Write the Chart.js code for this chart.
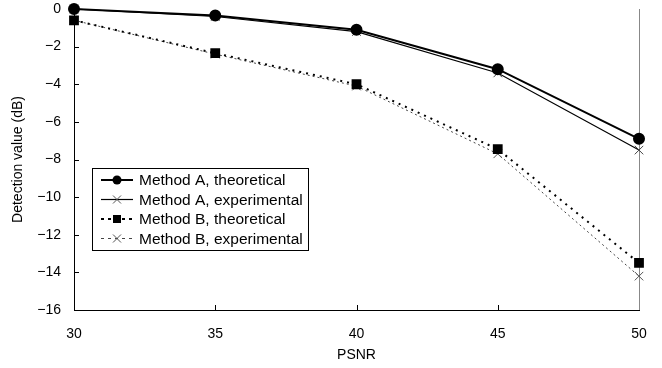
<!DOCTYPE html>
<html>
<head>
<meta charset="utf-8">
<script src="https://cdn.jsdelivr.net/npm/chart.js@4"></script>
<style>
  html, body { margin: 0; padding: 0; background: #fff; }
  #wrap { width: 662px; height: 368px; }
</style>
</head>
<body>
<div id="wrap"><canvas id="myChart" width="662" height="368"></canvas></div>
<script>
var psnr = [30, 35, 40, 45, 50];
var aTheoretical = [0, -0.35, -1.1, -3.2, -6.9];
var aExperimental = [0, -0.4, -1.2, -3.4, -7.5];
var bTheoretical = [-0.6, -2.35, -4.0, -7.45, -13.5];
var bExperimental = [-0.6, -2.4, -4.1, -7.7, -14.2];
var seriesNames = ['Method A, theoretical', 'Method A, experimental', 'Method B, theoretical', 'Method B, experimental'];

var FONT = "'Liberation Sans', Arial, sans-serif";

function pts(arr) {
    return arr.map(function (v, i) { return { x: psnr[i], y: v }; });
}

// inward tick marks + gray right border, under the data
var frame = {
    id: 'frame',
    beforeDatasetsDraw: function (chart) {
        var c = chart.ctx, a = chart.chartArea;
        var xs = chart.scales.x, ys = chart.scales.y;
        c.save();
        c.strokeStyle = '#000';
        c.lineWidth = 1;
        c.beginPath();
        ys.ticks.forEach(function (t) {
            var y = Math.round(ys.getPixelForValue(t.value)) + 0.5;
            c.moveTo(a.left, y); c.lineTo(a.left + 5, y);
        });
        xs.ticks.forEach(function (t) {
            var x = Math.round(xs.getPixelForValue(t.value)) + 0.5;
            c.moveTo(x, a.bottom); c.lineTo(x, a.bottom - 5);
        });
        c.stroke();
        c.strokeStyle = '#888';
        c.beginPath();
        c.moveTo(a.right + 0.5, a.top); c.lineTo(a.right + 0.5, a.bottom);
        c.stroke();
        c.restore();
    }
};

// boxed legend inside the plot, like the original
var boxLegend = {
    id: 'boxLegend',
    afterDraw: function (chart) {
        var c = chart.ctx;
        var left = 92, top = 168, w = 216, h = 82;
        c.save();
        c.fillStyle = '#fff';
        c.fillRect(left, top, w, h);
        c.strokeStyle = '#000';
        c.lineWidth = 1;
        c.strokeRect(left + 0.5, top + 0.5, w, h);
        chart.data.datasets.forEach(function (ds, i) {
            var y = top + 12 + i * 19.5;
            c.strokeStyle = ds.borderColor;
            c.lineWidth = ds.borderWidth;
            c.setLineDash(i > 1 ? [3, 4] : []);
            c.beginPath();
            c.moveTo(101, y); c.lineTo(133, y);
            c.stroke();
            c.setLineDash([]);
            c.fillStyle = '#000';
            c.strokeStyle = '#000';
            c.lineWidth = 1;
            if (ds.pointStyle === 'circle') {
                c.beginPath(); c.arc(117, y, 4.5, 0, Math.PI * 2); c.fill();
            } else if (ds.pointStyle === 'rect') {
                c.fillRect(113, y - 4, 8, 8);
            } else {
                c.strokeStyle = '#555';
                c.beginPath();
                c.moveTo(113, y - 4); c.lineTo(121, y + 4);
                c.moveTo(121, y - 4); c.lineTo(113, y + 4);
                c.stroke();
            }
            c.fillStyle = '#000';
            c.font = '15.5px ' + FONT;
            c.textBaseline = 'middle';
            c.fillText(seriesNames[i], 139, y + 1);
        });
        c.restore();
    }
};

var ctx = document.getElementById('myChart').getContext('2d');
var myChart = new Chart(ctx, {
    type: 'line',
    data: {
        datasets: [{
            label: seriesNames[0],
            data: pts(aTheoretical),
            borderColor: '#000',
            backgroundColor: '#000',
            borderWidth: 2,
            pointStyle: 'circle',
            pointRadius: 5,
            tension: 0,
            clip: false
        }, {
            label: seriesNames[1],
            data: pts(aExperimental),
            borderColor: '#000',
            backgroundColor: '#000',
            pointBorderColor: '#444',
            borderWidth: 1.2,
            pointStyle: 'crossRot',
            pointRadius: 6,
            pointBorderWidth: 1,
            tension: 0,
            clip: false
        }, {
            label: seriesNames[2],
            data: pts(bTheoretical),
            borderColor: '#000',
            backgroundColor: '#000',
            borderWidth: 2,
            borderDash: [2, 5],
            pointStyle: 'rect',
            pointRadius: 5.5,
            tension: 0,
            clip: false
        }, {
            label: seriesNames[3],
            data: pts(bExperimental),
            borderColor: '#444',
            backgroundColor: '#444',
            pointBorderColor: '#555',
            borderWidth: 1,
            borderDash: [2, 3],
            pointStyle: 'crossRot',
            pointRadius: 6,
            pointBorderWidth: 1,
            tension: 0,
            clip: false
        }]
    },
    options: {
        responsive: false,
        animation: false,
        layout: { padding: { left: 0, right: 23, top: 9, bottom: 0 } },
        plugins: {
            legend: { display: false },
            tooltip: { enabled: false }
        },
        scales: {
            x: {
                type: 'linear',
                min: 30,
                max: 50,
                ticks: { stepSize: 5, color: '#000', font: { family: FONT, size: 14 }, padding: 16 },
                grid: { display: false, drawTicks: false },
                border: { color: '#000', width: 1 },
                title: { display: true, text: 'PSNR', color: '#000', font: { family: FONT, size: 14 }, padding: { top: 0 } },
                afterFit: function (s) { s.height = 58; s.paddingLeft = 0; s.paddingRight = 0; }
            },
            y: {
                min: -16,
                max: 0,
                ticks: {
                    stepSize: 2, color: '#000', font: { family: FONT, size: 14 }, padding: 13,
                    callback: function (v) { return v < 0 ? '\u2212' + Math.abs(v) : String(v); }
                },
                grid: { display: false, drawTicks: false },
                border: { color: '#000', width: 1 },
                title: { display: true, text: 'Detection value (dB)', color: '#000', font: { family: FONT, size: 14 }, padding: { top: 10, bottom: 4 } },
                afterFit: function (s) { s.width = 74; s.paddingTop = 0; s.paddingBottom = 0; }
            }
        }
    },
    plugins: [frame, boxLegend]
});
</script>
</body>
</html>
